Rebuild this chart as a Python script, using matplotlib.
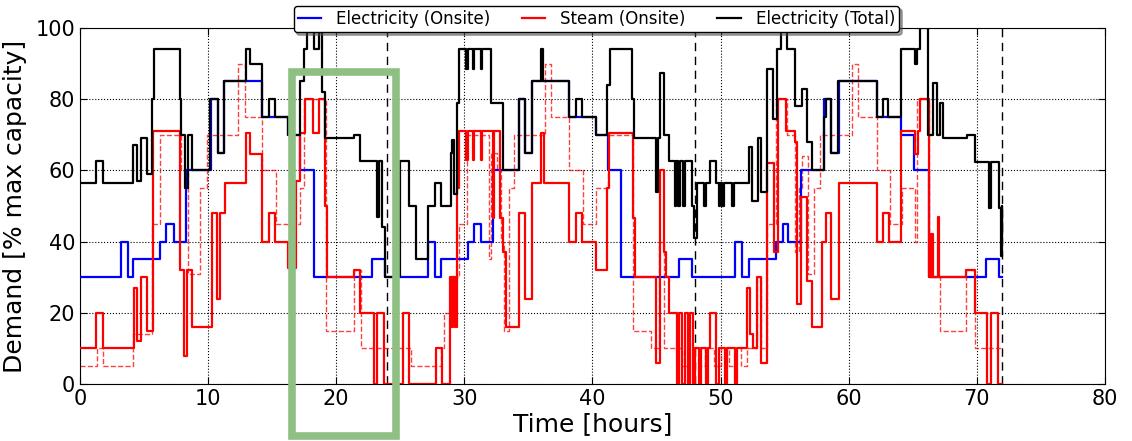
import matplotlib
matplotlib.use("Agg")
import matplotlib.pyplot as plt
from matplotlib.patches import Rectangle

# Onsite electricity demand: time [h] at which each level starts, level [%]
elec_t = [0, 3.23, 3.75, 4.14, 6.22, 6.74, 7.34, 8.3, 10.2, 10.75, 11.2, 14.2, 16.27, 17.2,
          18.3, 22.8, 23.8, 27.2, 27.7, 28.2, 30.3, 30.75, 31.3, 32.25, 34.3, 34.7, 35.3,
          38.15, 40.25, 41.2, 42.25, 46.75, 47.8, 51.15, 51.7, 52.2, 54.3, 54.85, 55.25,
          56.25, 58.1, 58.65, 59.25, 62.2, 64.1, 65.1, 66.25, 70.75, 71.75, 72]
elec_v = [30, 40, 30, 35, 40, 45, 40, 60, 80, 65, 85, 75, 70, 60,
          30, 35, 30, 40, 30, 35, 40, 45, 40, 60, 80, 65, 85,
          75, 70, 60, 30, 35, 30, 40, 30, 35, 40, 45, 40,
          60, 80, 65, 85, 75, 70, 60, 30, 35, 30, 30]

# Onsite steam demand
steam_t = [0, 1.27, 1.8, 4.2, 4.45, 4.75, 5.25, 5.7, 7.8, 8.15, 8.35, 8.75, 10.3, 10.7, 10.9,
           11.3, 12.95, 13.25, 14.2, 14.75, 15.2, 16.25, 16.85, 17.2, 17.6, 18.2, 18.65, 19.1,
           19.3, 21.4, 21.85, 22.95, 23.2, 23.7, 25.2, 25.7, 27.75, 28.25, 28.9, 29.0, 29.15,
           29.3, 29.45, 29.6, 30.15, 30.25, 30.65, 30.75, 31.3, 31.4, 32.25, 32.35, 32.8, 33.0,
           33.25, 34.25, 34.7, 35.25, 35.95, 36.2, 38.15, 38.7, 39.2, 40.25, 41.15, 41.3,
           43.15, 43.3, 45.0, 45.25, 45.6, 45.75, 45.95, 46.6, 46.75, 47.0, 47.2, 47.45, 47.6,
           47.85, 48.0, 48.3, 48.45, 48.9, 49.05, 49.2, 49.65, 49.9, 50.35, 50.5, 51.1, 51.25,
           52.1, 52.3, 52.5, 52.85, 53.15, 53.65, 54.2, 54.5, 55.1, 55.8, 55.95, 56.3, 56.75,
           57.15, 57.95, 58.2, 58.6, 59.25, 62.2, 62.7, 63.15, 64.1, 65.15, 65.45, 65.6, 66.25,
           66.45, 66.55, 66.95, 67.05, 69.2, 69.9, 70.8, 71.15, 71.65, 72]
steam_v = [10, 20, 10, 27, 12, 30, 15, 71, 32, 8, 32, 16, 48, 24, 48,
           56.5, 70.5, 64.5, 40, 48, 40, 32.5, 57, 70.5, 80, 70.5, 80, 50,
           30, 32, 20, 0, 20, 0, 20, 0, 10, 0, 30, 16, 30,
           16, 55, 71, 63, 71, 63, 71, 63, 71, 46.5, 71, 46.5, 37,
           16, 48, 24, 56.5, 70.5, 56.5, 40, 48, 40, 32, 55, 70.5,
           46.5, 30, 6, 60, 37, 30, 20, 0, 20, 0, 20, 0, 20,
           0, 10, 0, 10, 0, 10, 20, 0, 10, 0, 10, 0, 10,
           27, 14, 10, 30, 6, 62, 37, 80, 71, 68, 22.5, 52.5, 29,
           16, 40, 48, 24, 56.5, 40, 48, 40, 71, 64.5, 71, 80, 30,
           42, 30, 47, 30, 32, 20, 0, 20, 0, 0]

# Total steam demand
steam_tot_t = [0, 1.3, 1.8, 4.15, 5.6, 6.25, 7.9, 8.4, 9.4, 9.9, 12.35, 12.85, 14.2, 15.3,
               17.2, 17.45, 19.2, 21.35, 21.9, 25.8, 28.15, 28.45, 28.9, 29.55, 30.2, 31.95,
               32.1, 32.55, 32.9, 33.1, 33.45, 33.9, 36.3, 36.75, 38.2, 39.25, 40.25, 41.2,
               43.2, 44.6, 45.2, 45.55, 47.0, 47.5, 48.3, 48.8, 49.5, 50.0, 50.7, 51.2, 51.6,
               52.05, 52.85, 53.15, 53.6, 54.3, 55.2, 55.85, 56.1, 56.35, 56.8, 57.3, 57.8,
               60.3, 60.75, 62.2, 63.2, 64.2, 65.15, 65.3, 66.3, 67.15, 69.2, 69.9, 72]
steam_tot_v = [5, 10, 5, 14, 45, 70, 60, 31, 55, 70, 90, 75, 60, 45,
               55, 80, 15, 32, 10, 5, 10, 20, 30, 45, 70, 35,
               65, 60, 40, 15, 55, 70, 90, 75, 60, 45, 55, 70,
               15, 10, 40, 10, 5, 10, 5, 10, 5, 10, 5, 10, 5,
               10, 30, 10, 45, 80, 70, 37, 55, 64, 31, 55, 70,
               90, 75, 60, 45, 55, 40, 80, 30, 15, 32, 10, 10]

# Total electricity demand
elec_tot_t = [0, 1.27, 1.8, 4.14, 4.45, 4.75, 5.2, 5.6, 5.75, 7.8, 7.9, 8.2, 8.4, 8.75, 10.15,
              10.75, 11.25, 12.95, 13.25, 14.2, 14.75, 15.2, 16.25, 17.2, 17.45, 17.75, 18.25,
              18.65, 18.9, 19.1, 21.4, 21.85, 23.15, 23.3, 23.6, 23.8, 25.0, 25.7, 26.25, 27.2,
              27.7, 28.2, 28.95, 29.05, 29.2, 29.4, 29.6, 30.15, 30.25, 30.65, 30.75, 31.3,
              31.4, 32.1, 33.0, 34.3, 34.7, 35.25, 35.95, 36.15, 38.15, 38.7, 39.2, 40.25,
              41.15, 41.35, 43.1, 43.25, 44.95, 45.1, 45.3, 45.6, 45.95, 46.45, 46.55, 46.7,
              46.8, 47.05, 47.2, 47.75, 47.95, 48.15, 48.7, 48.85, 49.2, 49.65, 49.85, 49.95,
              50.15, 50.25, 50.9, 51.05, 52.2, 52.45, 52.9, 53.15, 53.6, 54.1, 54.4, 54.75,
              55.2, 55.8, 56.35, 56.75, 57.15, 58.05, 58.2, 58.6, 59.2, 62.2, 62.7, 63.1, 64.1,
              65.2, 65.3, 65.55, 66.2, 66.6, 66.9, 67.15, 67.35, 69.25, 69.85, 70.95, 71.1,
              71.75, 71.92, 71.95, 71.97, 71.98, 71.99, 72]
elec_tot_v = [56.5, 62.5, 56.5, 67, 57, 69, 59, 80, 94, 80, 70, 55, 70, 60, 80,
              65, 85, 94, 90, 75, 80, 75, 70, 85, 94, 100, 94,
              100, 82, 69, 70, 62.5, 47, 62.5, 44, 30, 62.5, 50, 35, 50,
              56.5, 50, 65, 68.5, 53.5, 79, 94, 88.5, 94, 88.5, 94, 88.5,
              94, 79, 60, 80, 65, 85, 94, 85, 75, 80, 75, 70,
              84, 94, 80, 69, 54, 69, 87.5, 70, 62.5, 50, 62.5, 50,
              62.5, 50, 62.5, 50, 41, 56.5, 50, 56.5, 62.5, 56.5, 50, 56.5,
              50, 56.5, 50, 56.5, 66.5, 51.5, 69, 54, 88.5, 74.5, 94, 100,
              94, 78, 83, 68, 60, 75, 80, 65, 85, 75, 80, 75, 94,
              90, 94, 100, 70, 84.5, 70, 79, 69, 70, 62.3, 49.5, 62.3,
              49.5, 36, 50, 38, 48, 36, 42]

day_marks = [24, 48, 72]
x_ticks = list(range(0, 81, 10))
y_ticks = list(range(0, 101, 20))

fig = plt.figure(figsize=(11.32, 4.41), dpi=100)
ax = fig.add_axes([0.0707, 0.1293, 0.9053, 0.8072])

ax.step(steam_tot_t, steam_tot_v, where="post", color="red", lw=1.0,
        ls="--", alpha=0.75, zorder=2)
ax.step(elec_t, elec_v, where="post", color="blue", lw=1.6,
        label="Electricity (Onsite)", zorder=3)
ax.step(steam_t, steam_v, where="post", color="red", lw=1.6,
        label="Steam (Onsite)", zorder=4)
ax.step(elec_tot_t, elec_tot_v, where="post", color="black", lw=1.6,
        label="Electricity (Total)", zorder=5)

for d in day_marks:
    ax.axvline(d, color="black", ls="--", lw=1.0, dashes=(6, 4), zorder=1)

ax.set_xlim(0, 80)
ax.set_ylim(0, 100)
ax.set_xticks(x_ticks)
ax.set_yticks(y_ticks)
ax.grid(True, color="black", ls=":", lw=0.8)
ax.tick_params(direction="in", top=True, right=True, labelsize=15, length=5)
ax.set_xlabel("Time [hours]", fontsize=18, labelpad=2)
ax.set_ylabel("Demand [% max capacity]", fontsize=18, labelpad=6)

# highlighted window around the first night
ax.add_patch(Rectangle((16.55, -14.6), 24.63 - 16.55, 87.6 + 14.6, fill=False,
                       edgecolor="#8fc083", lw=5.5, clip_on=False, zorder=6))

leg = ax.legend(loc="upper center", bbox_to_anchor=(0.504, 1.085), ncol=3,
                fontsize=12, handlelength=1.4, columnspacing=1.9, fancybox=True,
                shadow=True, framealpha=1, borderpad=0.25, handletextpad=0.9)
leg.get_frame().set_edgecolor("black")
leg.set_zorder(10)

fig.savefig("out.png", dpi=100)
